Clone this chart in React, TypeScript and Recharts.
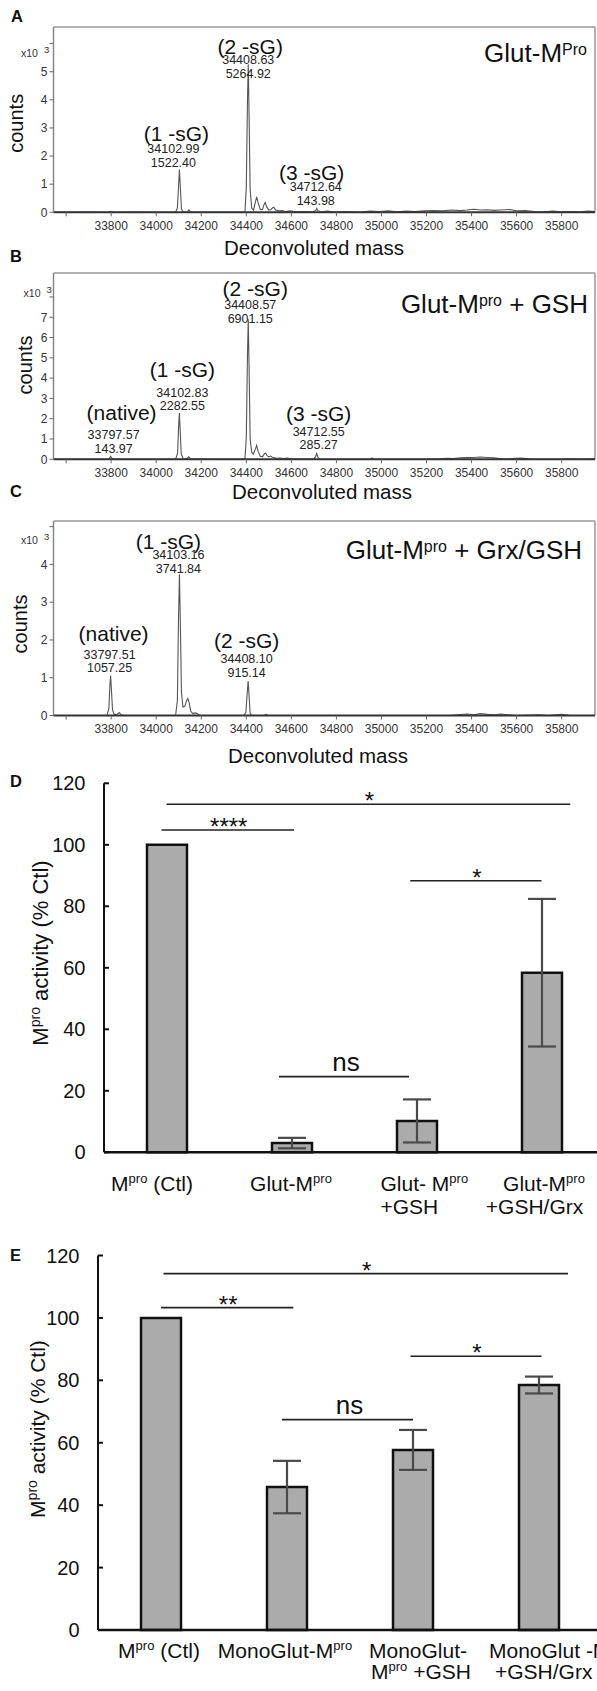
import React from 'react';
import {
  ComposedChart,
  Line,
  Scatter,
  XAxis,
  YAxis,
  ReferenceLine,
  BarChart,
  Bar,
  ErrorBar,
} from 'recharts';

const SANS = 'Arial, "Liberation Sans", Helvetica, sans-serif';
const NARROW = '"Liberation Sans Narrow", "Arial Narrow", Arial, sans-serif';

// ---- mass spectra (counts in x10^3) ----
const MASS_MIN = 33544;
const MASS_MAX = 35948;
const massTicks = [33600, 33800, 34000, 34200, 34400, 34600, 34800, 35000, 35200, 35400, 35600, 35800];

const spectrumA: [number, number][] = [
  [33544, 0.01], [33600, 0.0], [33700, 0.01], [33790, 0.0], [33800, 0.03], [33810, 0.0],
  [33900, 0.01], [34000, 0.0], [34086, 0.0], [34094, 0.15], [34099, 0.9], [34102.99, 1.5224], [34107, 0.9],
  [34112, 0.12], [34120, 0.01], [34138, 0.01], [34145, 0.09], [34152, 0.01], [34250, 0.0], [34394, 0.0],
  [34400, 0.9], [34405, 3.9], [34408.63, 5.26492], [34412, 3.6], [34417, 0.8], [34424, 0.15], [34432, 0.08],
  [34440, 0.35], [34446, 0.55], [34452, 0.35], [34462, 0.1], [34472, 0.1], [34479, 0.28], [34484, 0.35],
  [34490, 0.2], [34500, 0.08], [34510, 0.1], [34517, 0.16], [34522, 0.18], [34530, 0.08], [34545, 0.05],
  [34558, 0.06], [34575, 0.03], [34595, 0.05], [34620, 0.02], [34650, 0.03], [34680, 0.02], [34700, 0.03],
  [34708, 0.06], [34712.64, 0.14398], [34718, 0.05], [34730, 0.02], [34760, 0.04], [34790, 0.01], [34830, 0.03],
  [34870, 0.02], [34910, 0.01], [34950, 0.04], [34990, 0.03], [35030, 0.05], [35070, 0.02], [35110, 0.04],
  [35150, 0.03], [35190, 0.05], [35230, 0.06], [35270, 0.05], [35310, 0.08], [35350, 0.06], [35380, 0.08],
  [35410, 0.11], [35440, 0.08], [35470, 0.09], [35500, 0.07], [35530, 0.08], [35570, 0.1], [35600, 0.05],
  [35640, 0.06], [35680, 0.03], [35720, 0.02], [35760, 0.04], [35800, 0.02], [35840, 0.03], [35880, 0.02],
  [35920, 0.04], [35948, 0.03],
];

const spectrumB: [number, number][] = [
  [33544, 0.0], [33650, 0.0], [33788, 0.0], [33794, 0.08], [33797.57, 0.14397], [33802, 0.06], [33810, 0.0],
  [34000, 0.0], [34086, 0.0], [34095, 0.3], [34099, 1.5], [34102.83, 2.28255], [34106, 1.5], [34111, 0.25],
  [34120, 0.03], [34136, 0.03], [34144, 0.12], [34152, 0.03], [34250, 0.0], [34394, 0.0], [34400, 1.1],
  [34405, 5.0], [34408.57, 6.90115], [34412, 4.7], [34417, 1.0], [34424, 0.35], [34431, 0.25], [34440, 0.5],
  [34446, 0.68], [34452, 0.4], [34462, 0.15], [34472, 0.12], [34480, 0.28], [34486, 0.3], [34492, 0.18],
  [34500, 0.12], [34508, 0.16], [34515, 0.1], [34525, 0.08], [34535, 0.05], [34550, 0.06], [34565, 0.04],
  [34580, 0.06], [34600, 0.03], [34630, 0.01], [34670, 0.0], [34700, 0.02], [34707, 0.12], [34712.55, 0.28527],
  [34718, 0.1], [34726, 0.01], [34800, 0.0], [34950, 0.0], [34958, 0.07], [34966, 0.0], [35200, 0.0],
  [35260, 0.02], [35290, 0.05], [35320, 0.04], [35350, 0.07], [35380, 0.08], [35410, 0.09], [35440, 0.11],
  [35470, 0.09], [35500, 0.07], [35530, 0.03], [35560, 0.01], [35590, 0.05], [35620, 0.06], [35650, 0.03],
  [35680, 0.0], [35800, 0.0], [35850, 0.02], [35880, 0.0], [35948, 0.02],
];

const spectrumC: [number, number][] = [
  [33544, 0.0], [33700, 0.0], [33782, 0.0], [33790, 0.2], [33794, 0.75], [33797.51, 1.05725], [33801, 0.7],
  [33806, 0.15], [33814, 0.02], [33828, 0.04], [33836, 0.08], [33844, 0.02], [33860, 0.0], [34000, 0.0],
  [34086, 0.0], [34094, 0.4], [34099, 2.6], [34103.16, 3.74184], [34107, 2.5], [34112, 0.6], [34119, 0.22],
  [34127, 0.25], [34134, 0.38], [34140, 0.45], [34146, 0.35], [34153, 0.12], [34162, 0.05], [34172, 0.07],
  [34182, 0.05], [34195, 0.0], [34390, 0.0], [34398, 0.08], [34404, 0.6], [34408.1, 0.91514], [34412, 0.55],
  [34417, 0.06], [34425, 0.0], [34480, 0.0], [34488, 0.03], [34496, 0.0], [35300, 0.0], [35340, 0.02],
  [35380, 0.04], [35410, 0.02], [35440, 0.05], [35470, 0.03], [35500, 0.02], [35530, 0.04], [35560, 0.02],
  [35600, 0.0], [35700, 0.02], [35740, 0.0], [35800, 0.03], [35840, 0.0], [35948, 0.0],
];

const peaksA = [
  { tag: '(1 -sG)', mass: 34102.99, counts: 1522.4 },
  { tag: '(2 -sG)', mass: 34408.63, counts: 5264.92 },
  { tag: '(3 -sG)', mass: 34712.64, counts: 143.98 },
];
const peaksB = [
  { tag: '(native)', mass: 33797.57, counts: 143.97 },
  { tag: '(1 -sG)', mass: 34102.83, counts: 2282.55 },
  { tag: '(2 -sG)', mass: 34408.57, counts: 6901.15 },
  { tag: '(3 -sG)', mass: 34712.55, counts: 285.27 },
];
const peaksC = [
  { tag: '(native)', mass: 33797.51, counts: 1057.25 },
  { tag: '(1 -sG)', mass: 34103.16, counts: 3741.84 },
  { tag: '(2 -sG)', mass: 34408.1, counts: 915.14 },
];

// ---- activity assays (% Ctl) ----
const groupsD = [['M^{pro} (Ctl)'], ['Glut-M^{pro}'], ['Glut- M^{pro}', '+GSH'], ['Glut-M^{pro}', '+GSH/Grx']];
const activityD = [100, 3.0, 10.2, 58.4];
const errorD = [0, 1.7, 7.0, 24.0];

const groupsE = [['M^{pro} (Ctl)'], ['MonoGlut-M^{pro}'], ['MonoGlut-', 'M^{pro} +GSH'], ['MonoGlut -M^{pro}', '+GSH/Grx']];
const activityE = [100, 45.8, 57.7, 78.5];
const errorE = [0, 8.4, 6.4, 2.7];

// significance brackets: from, to (group position), height (% Ctl), mark
const bracketsD: [number, number, number, string][] = [
  [1.0, 4.23, 113.2, '*'],
  [0.96, 2.02, 104.8, '****'],
  [2.95, 4.0, 88.3, '*'],
  [1.9, 2.94, 24.6, 'ns'],
];
const bracketsE: [number, number, number, string][] = [
  [1.02, 4.23, 114.2, '*'],
  [1.0, 2.05, 103.3, '**'],
  [2.98, 4.02, 87.7, '*'],
  [1.96, 3.0, 67.4, 'ns'],
];

// label offsets from each peak apex, px: title dx, dy, numbers dx, dy
const offsetsA = [[-3, -36, -6, -20], [2, -18, 0, -4], [-5, -36, -1, -21]];
const offsetsB = [[11, -44, 3, -21], [3, -43, 3, -20], [7, -31, 2, -14], [2, -40, 2, -22]];
const offsetsC = [[3, -42, -1, -21], [-11, -33, -1, -19], [-1.5, -40.5, -1.5, -21.5]];

// text with ^{sup} parts -> tspans
const rich = (s: string, sup: number, rise: number) => {
  const parts = s.split(/\^\{([^}]*)\}/);
  let raised = false;
  const out: React.ReactNode[] = [];
  parts.forEach((p, k) => {
    if (k % 2) {
      out.push(<tspan key={k} fontSize={sup} dy={-rise}>{p}</tspan>);
      raised = true;
    } else if (p) {
      out.push(<tspan key={k} dy={raised ? rise : 0}>{p}</tspan>);
      raised = false;
    }
  });
  return out;
};

const PeakLabel = (props: any) => {
  const { cx, cy } = props;
  const p = props.payload ?? props;
  if (cx == null || cy == null || !p.off) return null;
  const [tdx, tdy, ndx, ndy] = p.off;
  return (
    <g>
      <text x={cx + tdx} y={cy + tdy} textAnchor="middle" dominantBaseline="central" fontSize={21} fontFamily={SANS} fill="#111">
        {p.tag}
      </text>
      <text x={cx + ndx} y={cy + ndy} textAnchor="middle" dominantBaseline="central" fontSize={12.5} fontFamily={NARROW} fill="#222">
        {p.mass.toFixed(2)}
      </text>
      <text x={cx + ndx} y={cy + ndy + 13.5} textAnchor="middle" dominantBaseline="central" fontSize={12.5} fontFamily={NARROW} fill="#222">
        {p.counts.toFixed(2)}
      </text>
    </g>
  );
};

interface SpectrumProps {
  top: number;
  boxTop: number;
  axisY: number;
  yMax: number;
  yTicks: number[];
  spectrum: [number, number][];
  peaks: { tag: string; mass: number; counts: number }[];
  offsets: number[][];
}

const SpectrumPanel = ({ top, boxTop, axisY, yMax, yTicks, spectrum, peaks, offsets }: SpectrumProps) => {
  const data = spectrum.map(([m, c]) => ({ m, c }));
  const peakRows = peaks.map((p, i) => ({ ...p, m: p.mass, c: p.counts / 1000, off: offsets[i] }));
  const topTick = yTicks[yTicks.length - 1];
  return (
    <div style={{ position: 'absolute', left: 0, top }}>
      <ComposedChart
        width={597}
        height={axisY - top + 24}
        data={data}
        margin={{ top: boxTop - top, right: 2, bottom: 4, left: 13.5 }}
      >
        <XAxis
          type="number"
          dataKey="m"
          domain={[MASS_MIN, MASS_MAX]}
          ticks={massTicks}
          interval={0}
          height={20}
          tickFormatter={(v: number) => (v === 33600 ? '' : String(v))}
          axisLine={{ stroke: '#333', strokeWidth: 2 }}
          tickLine={{ stroke: '#666' }}
          tickSize={4}
          tickMargin={5}
          tick={{ fontSize: 12, fill: '#333', fontFamily: NARROW }}
        />
        <YAxis
          type="number"
          domain={[0, yMax]}
          ticks={yTicks}
          interval={0}
          width={40}
          tickFormatter={(v: number) => (v === topTick ? '' : String(v))}
          axisLine={{ stroke: '#888', strokeWidth: 1.5 }}
          tickLine={{ stroke: '#666' }}
          tickSize={4}
          tickMargin={2}
          tick={{ fontSize: 12, fill: '#333', fontFamily: NARROW }}
        />
        <ReferenceLine y={yMax} stroke="#999" strokeWidth={1.5} />
        <ReferenceLine x={MASS_MAX} stroke="#999" strokeWidth={1.5} />
        <Line type="linear" dataKey="c" stroke="#555" strokeWidth={1.1} dot={false} isAnimationActive={false} />
        <Scatter data={peakRows} dataKey="c" shape={(p: any) => <PeakLabel {...p} />} isAnimationActive={false} />
      </ComposedChart>
    </div>
  );
};

const ValueTick = (props: any) => {
  const { x, y, payload } = props;
  return (
    <g>
      <line x1={x} x2={x + 5} y1={y} y2={y} stroke="#111" strokeWidth={2} />
      <text x={x - 18.5} y={y} textAnchor="end" dominantBaseline="central" fontSize={20} fontFamily={SANS} fill="#111">
        {payload.value}
      </text>
    </g>
  );
};

interface TickLayout {
  anchor: 'start' | 'middle' | 'end';
  dx: number[];
}

const bracketLabel = (mark: string) => (props: any) => {
  const vb = props.viewBox || {};
  const x1 = vb.x1 ?? vb.x;
  const x2 = vb.x2 ?? vb.x + (vb.width || 0);
  const y = vb.y1 ?? vb.y;
  const ns = mark === 'ns';
  return (
    <text
      x={(x1 + x2) / 2 + (ns ? 2 : 1)}
      y={ns ? y - 6 : y + 5}
      textAnchor="middle"
      fontSize={ns ? 26 : 24}
      fontFamily={SANS}
      fill="#111"
    >
      {mark}
    </text>
  );
};

interface ActivityProps {
  top: number;
  plotTop: number;
  axisY: number;
  plotLeft: number;
  plotRight: number;
  height: number;
  groups: string[][];
  values: number[];
  errors: number[];
  brackets: [number, number, number, string][];
  layout: TickLayout[];
  lineY: number[];
}

const ActivityPanel = (p: ActivityProps) => {
  const data = p.values.map((v, i) => ({ x: i + 1, v, err: p.errors[i] }));
  const width = 620;
  const GroupTick = (tp: any) => {
    const i = Math.round(tp.payload.value) - 1;
    const lay = p.layout[i];
    return (
      <g>
        {p.groups[i].map((ln, j) => (
          <text
            key={j}
            x={tp.x + lay.dx[j]}
            y={tp.y + p.lineY[j]}
            textAnchor={lay.anchor}
            fontSize={21}
            fontFamily={SANS}
            fill="#111"
          >
            {rich(ln, 13, 8)}
          </text>
        ))}
      </g>
    );
  };
  return (
    <div style={{ position: 'absolute', left: 0, top: p.top }}>
      <BarChart
        width={width}
        height={p.height}
        data={data}
        margin={{ top: p.plotTop - p.top, right: width - p.plotRight, bottom: 0, left: 10 }}
      >
        <XAxis
          type="number"
          dataKey="x"
          domain={[0.5, 4.5]}
          ticks={[1, 2, 3, 4]}
          interval={0}
          height={p.height - (p.axisY - p.top)}
          axisLine={{ stroke: '#111', strokeWidth: 2.5 }}
          tickLine={false}
          tickSize={0}
          tickMargin={0}
          tick={<GroupTick />}
        />
        <YAxis
          type="number"
          domain={[0, 120]}
          ticks={[0, 20, 40, 60, 80, 100, 120]}
          interval={0}
          width={p.plotLeft - 10}
          axisLine={{ stroke: '#111', strokeWidth: 2 }}
          tickLine={false}
          tickSize={0}
          tickMargin={0}
          tick={<ValueTick />}
        />
        <Bar dataKey="v" barSize={40} fill="#ababab" stroke="#111" strokeWidth={2.5} isAnimationActive={false}>
          <ErrorBar dataKey="err" width={14} stroke="#4a4a4a" strokeWidth={2.2} direction="y" />
        </Bar>
        {p.brackets.map(([a, b, h, mark], k) => (
          <ReferenceLine
            key={k}
            segment={[{ x: a, y: h }, { x: b, y: h }]}
            stroke="#222"
            strokeWidth={1.6}
            ifOverflow="visible"
            label={bracketLabel(mark)}
          />
        ))}
      </BarChart>
    </div>
  );
};

const letter = (ch: string, x: number, y: number) => (
  <text x={x} y={y} fontSize={16.5} fontWeight="bold" fontFamily={SANS} fill="#111">
    {ch}
  </text>
);

const rotated = (content: React.ReactNode, x: number, y: number, size: number) => (
  <text
    transform={`translate(${x},${y}) rotate(-90)`}
    textAnchor="middle"
    fontSize={size}
    fontFamily={SANS}
    fill="#111"
  >
    {content}
  </text>
);

const scale10 = (x: number, y: number) => (
  <g fontFamily={SANS} fill="#333">
    <text x={x} y={y} fontSize={10.5}>x10</text>
    <text x={x + 23} y={y - 4} fontSize={9.5}>3</text>
  </g>
);

const App = () => {
  return (
    <div
      style={{
        position: 'absolute',
        left: 0,
        top: 0,
        width: 597,
        height: 1691,
        overflow: 'hidden',
        background: '#fff',
        fontFamily: SANS,
      }}
    >
      <SpectrumPanel top={0} boxTop={27} axisY={212.3} yMax={6.59} yTicks={[0, 1, 2, 3, 4, 5, 6]}
        spectrum={spectrumA} peaks={peaksA} offsets={offsetsA} />
      <SpectrumPanel top={250} boxTop={273} axisY={459.3} yMax={9.18} yTicks={[0, 1, 2, 3, 4, 5, 6, 7, 8]}
        spectrum={spectrumB} peaks={peaksB} offsets={offsetsB} />
      <SpectrumPanel top={500} boxTop={521} axisY={715.5} yMax={5.15} yTicks={[0, 1, 2, 3, 4, 5]}
        spectrum={spectrumC} peaks={peaksC} offsets={offsetsC} />

      <ActivityPanel
        top={770} plotTop={783.3} axisY={1152.3} plotLeft={104} plotRight={604} height={460}
        groups={groupsD} values={activityD} errors={errorD} brackets={bracketsD}
        layout={[
          { anchor: 'middle', dx: [-14.5] },
          { anchor: 'middle', dx: [-0.5] },
          { anchor: 'start', dx: [-36, -36] },
          { anchor: 'middle', dx: [2.5, -7] },
        ]}
        lineY={[38.5, 62]}
      />
      <ActivityPanel
        top={1240} plotTop={1255.5} axisY={1630} plotLeft={98} plotRight={602} height={451}
        groups={groupsE} values={activityE} errors={errorE} brackets={bracketsE}
        layout={[
          { anchor: 'middle', dx: [-2] },
          { anchor: 'middle', dx: [-2] },
          { anchor: 'start', dx: [-44, -42] },
          { anchor: 'start', dx: [-50, -44] },
        ]}
        lineY={[27.5, 49]}
      />

      <svg width={597} height={1691} style={{ position: 'absolute', left: 0, top: 0, pointerEvents: 'none' }}>
        {letter('A', 11, 22)}
        {letter('B', 10, 261.5)}
        {letter('C', 10, 496.5)}
        {letter('D', 10, 786.5)}
        {letter('E', 10, 1260.5)}

        {scale10(21, 57)}
        {scale10(23.6, 297)}
        {scale10(21, 544)}

        {rotated('counts', 23, 123.3, 20)}
        {rotated('counts', 32, 365, 20)}
        {rotated('counts', 27, 624, 20)}

        <g fontSize={20.5} fontFamily={SANS} fill="#111" textAnchor="middle">
          <text x={314} y={255}>Deconvoluted mass</text>
          <text x={322} y={499}>Deconvoluted mass</text>
          <text x={318} y={763}>Deconvoluted mass</text>
        </g>

        <g fontSize={26} fontFamily={SANS} fill="#111" textAnchor="end">
          <text x={587} y={62}>{rich('Glut-M^{Pro}', 16, 7)}</text>
          <text x={588} y={313}>{rich('Glut-M^{pro} + GSH', 16, 7)}</text>
          <text x={582} y={559}>{rich('Glut-M^{pro} + Grx/GSH', 16, 7)}</text>
        </g>

        {rotated(rich('M^{pro} activity (% Ctl)', 14, 8), 47.5, 953, 22)}
        {rotated(rich('M^{pro} activity (% Ctl)', 14, 8), 45, 1429, 21)}
      </svg>
    </div>
  );
};

export default App;
